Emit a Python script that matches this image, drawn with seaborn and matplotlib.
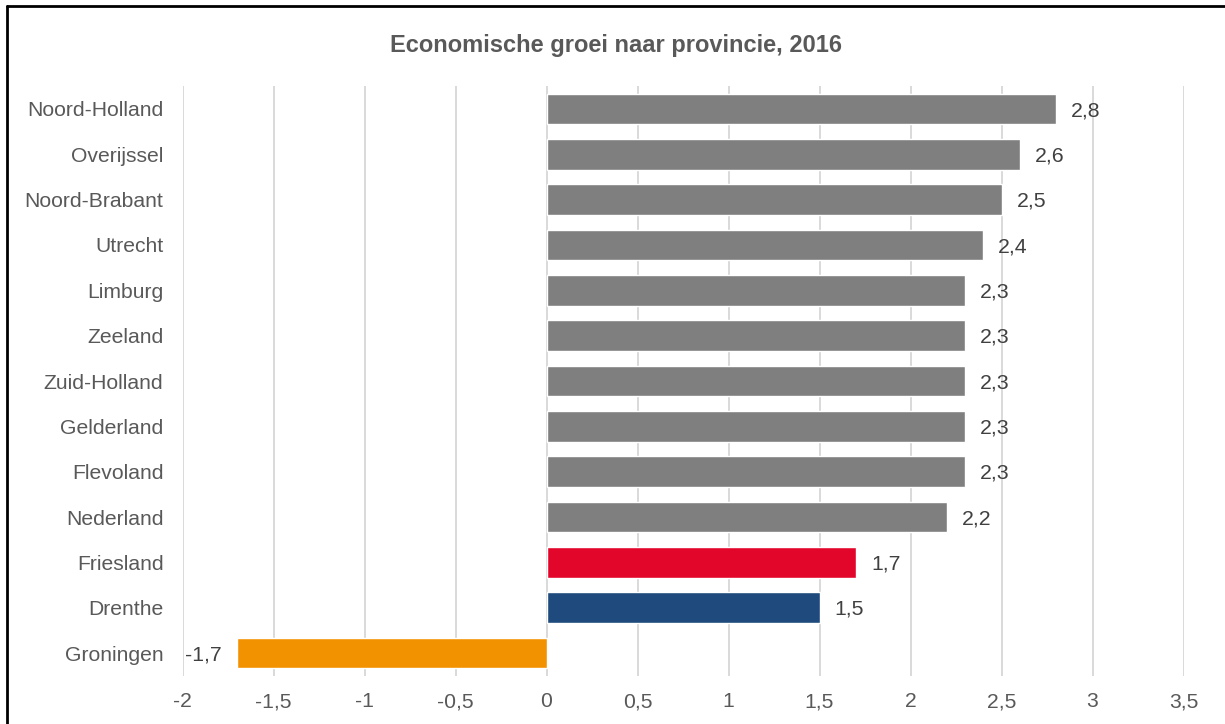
import matplotlib
matplotlib.use("Agg")
import matplotlib.pyplot as plt
import seaborn as sns
import pandas as pd
from matplotlib.lines import Line2D

provinces = ["Noord-Holland", "Overijssel", "Noord-Brabant", "Utrecht", "Limburg",
             "Zeeland", "Zuid-Holland", "Gelderland", "Flevoland", "Nederland",
             "Friesland", "Drenthe", "Groningen"]
growth = [2.8, 2.6, 2.5, 2.4, 2.3, 2.3, 2.3, 2.3, 2.3, 2.2, 1.7, 1.5, -1.7]
bar_colors = ["#7F7F7F"] * 10 + ["#E3062B", "#1F4A7D", "#F39200"]
x_ticks = [-2, -1.5, -1, -0.5, 0, 0.5, 1, 1.5, 2, 2.5, 3, 3.5]
title = "Economische groei naar provincie, 2016"

sns.set_theme(style="white")
plt.rcParams["font.family"] = ["Liberation Sans", "DejaVu Sans"]

df = pd.DataFrame({"provincie": provinces, "groei": growth})

fig = plt.figure(figsize=(12.25, 7.24), dpi=100)
ax = fig.add_axes([182.5 / 1225, 1 - 675.7 / 724, (1183.5 - 182.5) / 1225, (675.7 - 86.3) / 724])

sns.barplot(data=df, x="groei", y="provincie", hue="provincie", order=provinces,
            hue_order=provinces, palette=dict(zip(provinces, bar_colors)),
            orient="h", width=0.68, legend=False, saturation=1, ax=ax, zorder=3)

ax.set_xlim(-2, 3.5)
ax.set_ylim(len(provinces) - 0.5, -0.5)
ax.set_xticks(x_ticks)
ax.set_xticklabels([("%g" % t).replace(".", ",") for t in x_ticks])
ax.xaxis.grid(True, color="#D9D9D9", linewidth=1.4, zorder=0)
ax.yaxis.grid(False)
for s in ax.spines.values():
    s.set_visible(False)
ax.set_xlabel("")
ax.set_ylabel("")
ax.tick_params(axis="x", length=0, pad=12, labelsize=15.2, labelcolor="#595959")
ax.tick_params(axis="y", length=0, pad=13.7, labelsize=15.2, labelcolor="#595959")

for i, v in enumerate(growth):
    lbl = ("%.1f" % v).replace(".", ",")
    if v >= 0:
        ax.annotate(lbl, (v, i), xytext=(10.8, -1.2), textcoords="offset points",
                    ha="left", va="center", fontsize=15.3, color="#404040")
    else:
        ax.annotate(lbl, (v, i), xytext=(-10.8, -1.2), textcoords="offset points",
                    ha="right", va="center", fontsize=15.3, color="#404040")

fig.text(616 / 1225, 1 - 45.5 / 724, title, ha="center", va="center",
         fontsize=17, fontweight="bold", color="#595959")

# outer chart border (left and top edges visible)
fig.add_artist(Line2D([6.5 / 1225, 6.5 / 1225], [0, 1 - 5.5 / 724], transform=fig.transFigure,
                      color="black", linewidth=2))
fig.add_artist(Line2D([6.5 / 1225, 1], [1 - 5.5 / 724, 1 - 5.5 / 724], transform=fig.transFigure,
                      color="black", linewidth=2))

fig.savefig("out.png", dpi=100)
